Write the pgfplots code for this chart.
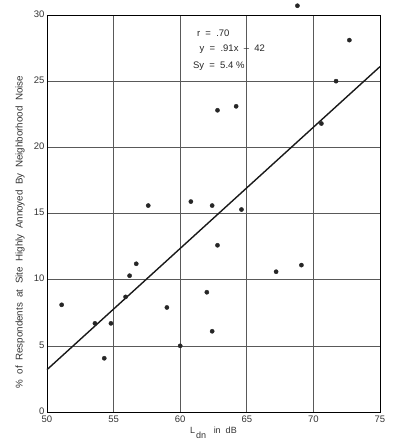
\documentclass[border=0pt]{standalone}
\usepackage{pgfplots}
\pgfplotsset{compat=1.18}
\usepackage{fontspec}
\setmainfont{Liberation Sans}
\begin{document}
\begin{tikzpicture}
\useasboundingbox (-47pt,-30pt) rectangle (347pt,412pt);
\begin{axis}[
  at={(0pt,0pt)}, anchor=south west,
  scale only axis,
  width=333pt, height=397pt,
  xmin=50, xmax=75, ymin=0, ymax=30,
  xtick={50,55,...,75}, ytick={0,5,...,30},
  grid=major,
  grid style={black!65, line width=0.6pt},
  axis line style={black, line width=0.9pt},
  tick style={draw=none},
  /pgf/number format/assume math mode=true,
  ticklabel style={font=\fontsize{9.5}{10}\selectfont, text=black!80},
  xticklabel style={yshift=0pt},
  yticklabel style={xshift=1pt, yshift=1pt},
  xlabel={L\hspace{1pt}\raisebox{-4.5pt}{dn} \ \ in \ dB},
  ylabel={\% \ of \ Respondents \ at \ Site \ Highly \ Annoyed \ By \ Neighborhood \ Noise},
  xlabel style={font=\fontsize{9}{10}\selectfont, text=black!80, yshift=2pt},
  ylabel style={font=\fontsize{9.8}{10}\selectfont, text=black!80, at={(axis description cs:-0.081,0.453)}, anchor=center},
  clip=false,
]
\addplot[only marks, mark=*, mark size=2.1pt, black!85] coordinates {
(68.8,30.7) (72.7,28.1) (71.7,25.0) (70.6,21.8) (62.8,22.8) (64.2,23.1)
(57.6,15.6) (60.8,15.9) (62.4,15.6) (64.6,15.3) (62.8,12.6)
(56.7,11.2) (56.2,10.3) (67.2,10.6) (69.1,11.1) (62.0,9.05) (55.9,8.7)
(51.1,8.1) (53.6,6.7) (54.8,6.7) (54.3,4.06) (59.0,7.9) (60.0,5.0) (62.4,6.1)
};
\addplot[black!90, line width=1.4pt] coordinates {(50,3.2) (75,26.1)};
\node[anchor=west, font=\fontsize{9.5}{10}\selectfont, text=black!85] at (axis cs:61.0,28.6) {r \ = \ .70};
\node[anchor=west, font=\fontsize{9.5}{10}\selectfont, text=black!85] at (axis cs:61.2,27.4) {y \ = \ .91x \ -- \ 42};
\node[anchor=west, font=\fontsize{9.5}{10}\selectfont, text=black!85] at (axis cs:60.7,26.1) {Sy \ = \ 5.4 \%};
\end{axis}
\end{tikzpicture}
\end{document}
